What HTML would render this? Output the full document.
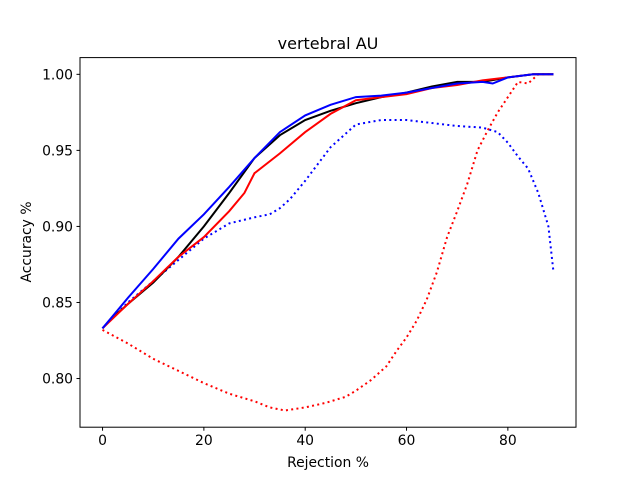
<!DOCTYPE html>
<html><head><meta charset="utf-8"><style>
body{margin:0;background:#fff;}
svg{display:block;font-family:"DejaVu Sans","Liberation Sans",sans-serif;}
</style></head><body>
<svg id="chart" width="640" height="480">
<rect width="640" height="480" fill="#fff"/>
<g id="marks"></g>
<rect x="80" y="57.6" width="496" height="369.6" fill="none" stroke="#000" stroke-width="1"/>
<g id="axes"></g>
<text x="328" y="49" font-size="16" text-anchor="middle">vertebral AU</text>
<text x="328" y="467" font-size="13.9" text-anchor="middle">Rejection %</text>
<text x="31" y="242" font-size="13.9" text-anchor="middle" transform="rotate(-90 31 242)">Accuracy %</text>
</svg>
<script>
const xTicks=[0,20,40,60,80];
const yTicks=[0.80,0.85,0.90,0.95,1.00];
const blackX=[0,2,5,10,15,20,25,30,35,40,45,50,55,60,65,70,75,80,85,89];
const blackY=[0.833,0.840,0.849,0.863,0.880,0.900,0.922,0.945,0.960,0.970,0.976,0.981,0.985,0.988,0.992,0.995,0.995,0.998,1.0,1.0];
const blueX=[0,2,5,10,15,20,25,30,35,40,45,50,55,60,65,70,75,77,80,85,89];
const blueY=[0.833,0.841,0.853,0.872,0.892,0.908,0.926,0.945,0.962,0.973,0.980,0.985,0.986,0.988,0.991,0.994,0.995,0.994,0.998,1.0,1.0];
const redX=[0,5,10,15,20,25,28,30,35,40,45,50,55,60,65,70,75,80,85,89];
const redY=[0.833,0.849,0.864,0.880,0.893,0.910,0.922,0.935,0.948,0.962,0.974,0.983,0.985,0.987,0.991,0.993,0.996,0.998,1.0,1.0];
const blueDotX=[0,5,10,15,20,25,30,33,35,37,40,45,50,55,60,65,70,75,78,80,82,84,86,88,89];
const blueDotY=[0.833,0.850,0.864,0.878,0.892,0.902,0.906,0.908,0.912,0.918,0.930,0.952,0.967,0.970,0.970,0.968,0.966,0.965,0.962,0.955,0.946,0.938,0.922,0.900,0.870];
const redDotX=[0,5,10,15,20,25,30,33,36,40,44,48,50,53,56,58,60,62,64,66,68,70,72,74,76,78,80,82,84,86,89];
const redDotY=[0.832,0.823,0.813,0.805,0.797,0.790,0.785,0.781,0.779,0.781,0.784,0.788,0.792,0.799,0.808,0.818,0.827,0.838,0.852,0.870,0.893,0.910,0.928,0.950,0.963,0.975,0.985,0.995,0.994,1.0,1.0];
const X0=80,X1=576,Y0=427.2,Y1=57.6,xmin=-4.45,xmax=93.45,ymin=0.768,ymax=1.011;
function sx(v){return X0+(v-xmin)/(xmax-xmin)*(X1-X0);}
function sy(v){return Y0-(v-ymin)/(ymax-ymin)*(Y0-Y1);}
const NS="http://www.w3.org/2000/svg";
const marks=document.getElementById('marks'),axes=document.getElementById('axes');
function line(xs,ys,color,dotted,name){
  const p=document.createElementNS(NS,'polyline');
  p.setAttribute('points',xs.map((x,i)=>sx(x).toFixed(1)+','+sy(ys[i]).toFixed(1)).join(' '));
  p.setAttribute('fill','none');p.setAttribute('stroke',color);
  p.setAttribute('stroke-width','2');
  if(dotted)p.setAttribute('stroke-dasharray','2,3.3');
  
  
  marks.appendChild(p);
}
line(redDotX,redDotY,'#ff0000',true,'red-dotted-line');
line(blueDotX,blueDotY,'#0000ff',true,'blue-dotted-line');
line(blackX,blackY,'#000000',false,'black-line');
line(redX,redY,'#ff0000',false,'red-line');
line(blueX,blueY,'#0000ff',false,'blue-line');
xTicks.forEach(t=>{
  const l=document.createElementNS(NS,'line');
  l.setAttribute('x1',sx(t));l.setAttribute('x2',sx(t));l.setAttribute('y1',Y0);l.setAttribute('y2',Y0+3.5);l.setAttribute('stroke','#000');
  
  
  axes.appendChild(l);
  const tx=document.createElementNS(NS,'text');
  tx.setAttribute('x',sx(t));tx.setAttribute('y',Y0+18);tx.setAttribute('font-size','13.9');tx.setAttribute('text-anchor','middle');
  tx.textContent=t;
  
  
  axes.appendChild(tx);
});
yTicks.forEach(t=>{
  const l=document.createElementNS(NS,'line');
  l.setAttribute('x1',X0-3.5);l.setAttribute('x2',X0);l.setAttribute('y1',sy(t));l.setAttribute('y2',sy(t));l.setAttribute('stroke','#000');
  
  
  axes.appendChild(l);
  const tx=document.createElementNS(NS,'text');
  tx.setAttribute('x',X0-7);tx.setAttribute('y',sy(t)+5);tx.setAttribute('font-size','13.9');tx.setAttribute('text-anchor','end');
  tx.textContent=t.toFixed(2);
  
  
  axes.appendChild(tx);
});
</script>
</body></html>
